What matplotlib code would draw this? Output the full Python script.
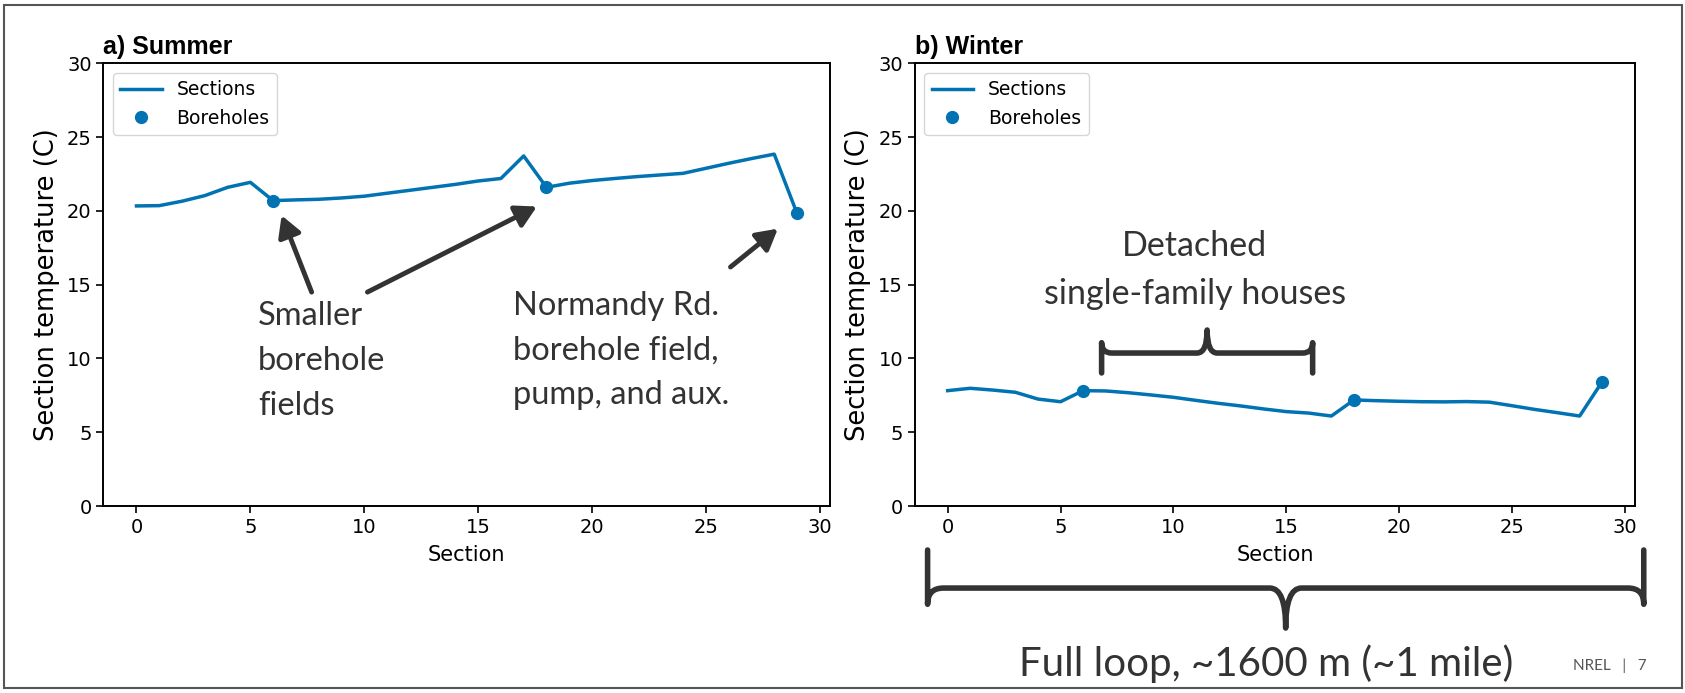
import numpy as np
import matplotlib
matplotlib.use('Agg')
import matplotlib.pyplot as plt
from matplotlib.path import Path
from matplotlib.patches import PathPatch, FancyArrowPatch, Rectangle

# section temperatures
sections = np.arange(30)
summer = [20.34, 20.36, 20.66, 21.04, 21.6, 21.94, 20.7, 20.75, 20.79, 20.88,
          21.0, 21.2, 21.4, 21.6, 21.8, 22.03, 22.2, 23.73, 21.6, 21.88,
          22.06, 22.2, 22.33, 22.44, 22.55, 22.89, 23.23, 23.55, 23.85, 19.84]
winter = [7.82, 7.98, 7.86, 7.71, 7.25, 7.07, 7.82, 7.8, 7.68, 7.53,
          7.37, 7.16, 6.96, 6.78, 6.58, 6.4, 6.3, 6.1, 7.19, 7.14,
          7.1, 7.07, 7.06, 7.08, 7.04, 6.8, 6.55, 6.33, 6.1, 8.43]
boreholes = [6, 18, 29]

blue = '#0173b2'
dark = '#333333'
annfont = 'Lato'

matplotlib.rc('font', family='DejaVu Sans', size=13)

fig = plt.figure(figsize=(16.85, 6.93), dpi=100)
ax1 = fig.add_axes([0.0614, 0.2698, 0.4312, 0.6387])
ax2 = fig.add_axes([0.5430, 0.2698, 0.4273, 0.6387])

for ax, temp, ttl in [(ax1, summer, 'a) Summer'), (ax2, winter, 'b) Winter')]:
    temp = np.array(temp)
    ax.plot(sections, temp, color=blue, lw=2.5, label='Sections')
    ax.plot(sections[boreholes], temp[boreholes], 'o', color=blue, ms=8.5, label='Boreholes')
    ax.set_ylim(0, 30)
    ax.set_xticks([0, 5, 10, 15, 20, 25, 30])
    ax.set_xlabel('Section', fontsize=15, labelpad=6)
    ax.set_ylabel('Section temperature (C)', fontsize=18.5, labelpad=5)
    ax.set_title(ttl, loc='left', fontweight='bold', family='Liberation Sans', fontsize=18, pad=7)
    ax.tick_params(labelsize=14, width=1.2, length=5)
    for s in ax.spines.values():
        s.set_linewidth(1.4)
    ax.legend(loc='upper left', fontsize=13.5, framealpha=0.8, handlelength=2.2)

# arrows on summer panel
arrows = [((7.69, 14.5), (6.37, 19.7)), ((10.14, 14.5), (17.58, 20.3)), ((26.08, 16.2), (28.16, 18.8))]
for tail, head in arrows:
    ax1.add_patch(FancyArrowPatch(tail, head, arrowstyle='-|>,head_length=5,head_width=2.8',
                                  color=dark, lw=3.5, mutation_scale=2.5, shrinkA=0, shrinkB=0))

ax1.text(5.33, 13.9, 'Smaller\nborehole\nfields', fontsize=23.5, family=annfont, color=dark,
         va='top', ha='left', linespacing=1.62)
ax1.text(16.55, 14.6, 'Normandy Rd.\nborehole field,\npump, and aux.', fontsize=23.5, family=annfont,
         color=dark, va='top', ha='left', linespacing=1.62)
ax2.text(10.94, 18.7, 'Detached\nsingle-family houses', fontsize=24.5, family=annfont, color=dark,
         va='top', ha='center', linespacing=1.6)


def brace(ax, x0, x1, yh, yend, ytip, rx, ry):
    # curly bracket: ends go to yend, tip goes to ytip, bar at yh
    xm = (x0 + x1) / 2.0
    s = np.sign(yend - yh)
    verts = [(x0, yend), (x0, yh - s * ry), (x0, yh), (x0 + rx, yh),
             (xm - rx, yh), (xm, yh), (xm, ytip),
             (xm, yh), (xm + rx, yh),
             (x1 - rx, yh), (x1, yh), (x1, yh - s * ry), (x1, yend)]
    codes = [Path.MOVETO, Path.LINETO, Path.CURVE3, Path.CURVE3,
             Path.LINETO, Path.CURVE3, Path.CURVE3,
             Path.CURVE3, Path.CURVE3,
             Path.LINETO, Path.CURVE3, Path.CURVE3, Path.LINETO]
    ax.add_patch(PathPatch(Path(verts, codes), fill=False, ec=dark, lw=4,
                           capstyle='round', joinstyle='round', clip_on=False))

brace(ax2, 6.82, 16.17, 10.37, 9.02, 11.93, 0.45, 0.7)
brace(ax2, -0.89, 30.84, -5.56, -2.98, -8.27, 0.7, 1.1)

fig.text(1266 / 1685.0, 1 - 664 / 693.0, 'Full loop, ~1600 m (~1 mile)', fontsize=29, family=annfont,
         color=dark, ha='center', va='center')
fig.text(1610 / 1685.0, 1 - 666 / 693.0, 'NREL   |   7', fontsize=11, family=annfont,
         color='#555555', ha='center', va='center')

# slide frame
fig.add_artist(Rectangle((4 / 1685.0, 5 / 693.0), 1678 / 1685.0, 683 / 693.0, transform=fig.transFigure,
                         fill=False, ec='#555555', lw=1.5))

fig.savefig('out.png', dpi=100)
